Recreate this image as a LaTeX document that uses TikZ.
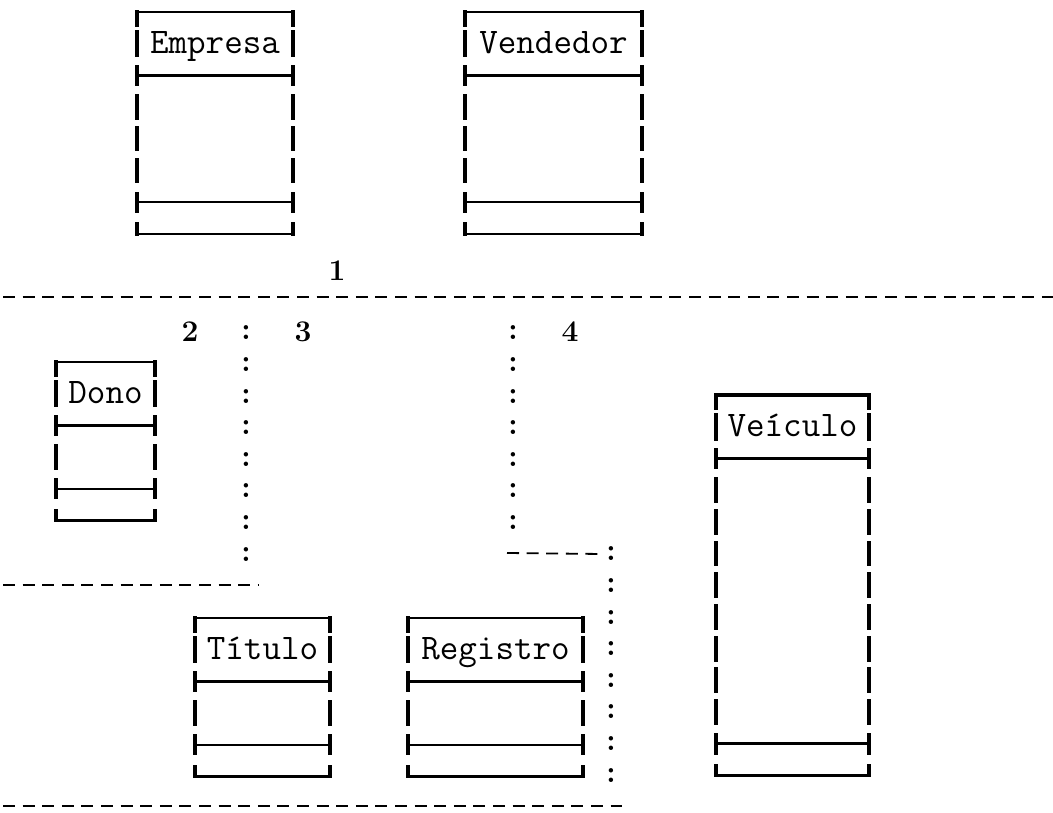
\documentclass[tikz,border=0pt]{standalone}
\usepackage{fontspec}

% A record box drawn with typewriter box characters:
% #1 name, #2 left x, #3 right x, #4 top y, #5 body rows, #6 title, #7 line style
\newcommand{\recbox}[7]{%
  \begin{scope}[#7]
    % top edge with its two corners
    \draw (#2,#4) -- (#3,#4);
    \draw[vbar] (#2,#4+13) -- (#2,#4);
    \draw[vbar] (#3,#4+13) -- (#3,#4);
    % title row
    \draw[vbar] (#2,{#4+31.7-12}) -- (#2,{#4+31.7+12});
    \draw[vbar] (#3,{#4+31.7-12}) -- (#3,{#4+31.7+12});
    \node[label text] (#1) at ({(#2+#3)/2},{#4+31.7+10}) {#6};
    % separator under the title
    \draw (#2,{#4+2*31.7}) -- (#3,{#4+2*31.7});
    \draw[vbar] (#2,{#4+2*31.7-9}) -- (#2,{#4+2*31.7+9});
    \draw[vbar] (#3,{#4+2*31.7-9}) -- (#3,{#4+2*31.7+9});
    % body rows
    \foreach \k in {1,...,#5} {
      \draw[vbar] (#2,{#4+(2+\k)*31.7-11}) -- (#2,{#4+(2+\k)*31.7+11});
      \draw[vbar] (#3,{#4+(2+\k)*31.7-11}) -- (#3,{#4+(2+\k)*31.7+11});
    }
    % lower separator
    \draw (#2,{#4+(3+#5)*31.7}) -- (#3,{#4+(3+#5)*31.7});
    \draw[vbar] (#2,{#4+(3+#5)*31.7-9}) -- (#2,{#4+(3+#5)*31.7+9});
    \draw[vbar] (#3,{#4+(3+#5)*31.7-9}) -- (#3,{#4+(3+#5)*31.7+9});
    % bottom edge
    \draw (#2,{#4+(4+#5)*31.7}) -- (#3,{#4+(4+#5)*31.7});
    \draw[vbar] (#2,{#4+(4+#5)*31.7-10}) -- (#2,{#4+(4+#5)*31.7});
    \draw[vbar] (#3,{#4+(4+#5)*31.7-10}) -- (#3,{#4+(4+#5)*31.7});
  \end{scope}}

\begin{document}
\begin{tikzpicture}[x=1pt,y=-1pt,
  rule/.style={line width=2.3pt, line cap=rect, vbar/.style={line width=3.3pt}},
  heavyrule/.style={line width=3.4pt, line cap=rect, vbar/.style={line width=3.8pt}},
  label text/.style={font=\ttfamily\fontsize{36}{40}\selectfont, inner sep=0pt, anchor=base},
  numtext/.style={font=\rmfamily\bfseries\fontsize{30}{34}\selectfont, inner sep=0pt, anchor=center},
  dotstext/.style={font=\ttfamily\bfseries\fontsize{32}{36}\selectfont, inner sep=0pt, anchor=center},
  partline/.style={line width=1.8pt, dash pattern=on 12pt off 7.6pt}
]
\useasboundingbox (0,0) rectangle (1053,813);

% upper level
\recbox{empresa}{137}{293}{12}{3}{Empresa}{rule}
\recbox{vendedor}{465}{642}{12}{3}{Vendedor}{rule}

\node[numtext] (n1) at (337,271) {1};
\draw[partline] (3,297) -- (1053,297);

% lower level
\node[numtext] (n2) at (190,332) {2};
\node[numtext] (n3) at (303,332) {3};
\node[numtext] (n4) at (570,332) {4};

\foreach \k in {0,...,7}
  \node[dotstext] (ca\k) at (246,{333+\k*31.6}) {:};
\foreach \k in {0,...,6}
  \node[dotstext] (cb\k) at (513,{333+\k*31.6}) {:};
\foreach \k in {0,...,7}
  \node[dotstext] (cc\k) at (611,{554+\k*31.6}) {:};

\draw[partline] (507,553) -- (cc0.west);
\draw[partline] (3,585) -- (258,585);
\draw[partline] (3,806) -- (622,806);

\recbox{dono}{56}{155}{362}{1}{Dono}{rule}
\recbox{veiculo}{716}{869}{395}{8}{Veículo}{heavyrule}
\recbox{titulo}{195}{330}{618}{1}{Título}{rule}
\recbox{registro}{408}{583}{618}{1}{Registro}{rule}
\end{tikzpicture}
\end{document}
